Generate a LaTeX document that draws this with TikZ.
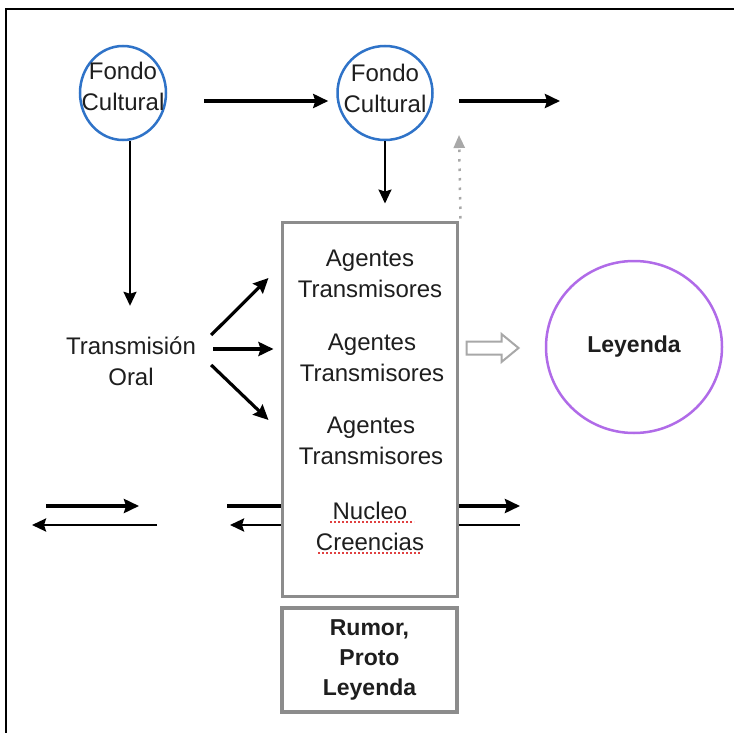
\documentclass[tikz,border=0pt]{standalone}
\usepackage{fontspec}
\setmainfont{Liberation Sans}
\usetikzlibrary{arrows.meta,calc,shapes.geometric}
\definecolor{cblue}{HTML}{2F73C8}
\definecolor{cpurple}{HTML}{B06BE8}
\definecolor{cgray}{HTML}{8C8C8C}
\definecolor{dgray}{HTML}{A8A8A8}
\definecolor{txt}{HTML}{1E1E1E}
\definecolor{squig}{HTML}{E04040}
\begin{document}
\begin{tikzpicture}[x=1pt,y=-1pt,
  every node/.style={font=\fontsize{24}{31}\selectfont, text=txt, inner sep=0pt, align=center},
  circ/.style={ellipse, draw=cblue, line width=2.5pt},
  boldtxt/.style={font=\fontsize{23}{30}\selectfont\bfseries},
  arr/.style={line width=3.2pt, -{Stealth[length=15pt,width=14pt,inset=2pt]}},
  arrthin/.style={line width=2pt, -{Stealth[length=14pt,width=13pt,inset=2pt]}},
  arrlow/.style={line width=2.5pt, -{Stealth[length=14pt,width=13pt,inset=2pt]}},
  dotarr/.style={draw=dgray, line width=2.5pt, dash pattern=on 2.5pt off 7pt,
     -{Triangle[length=13pt,width=11pt,fill=dgray]}},
  squiggle/.style={draw=squig, line width=1.3pt, dash pattern=on 2pt off 2pt}
]
\useasboundingbox (0,0) rectangle (734,733);
\fill[white] (0,0) rectangle (734,733);
\draw[line width=2.5pt] (6,740) -- (6,9) -- (740,9);

% nodes
\node[circ, minimum width=86pt, minimum height=94pt] (c1) at (123,93) {};
\node (c1t) at ($(c1.center)+(0,-7)$) {Fondo\\Cultural};
\node[circ, minimum width=95pt, minimum height=94pt] (c2) at (385,93) {};
\node (c2t) at ($(c2.center)+(0,-5)$) {Fondo\\Cultural};
\node[minimum width=160pt, minimum height=110pt] (tr) at (131,361) {Transmisión\\Oral};
\node[draw=cgray, line width=3pt, minimum width=175pt, minimum height=374pt] (box) at (369.5,409) {};
\node (ag1) at (370,274) {Agentes\\Transmisores};
\node (ag2) at (372,358) {Agentes\\Transmisores};
\node (ag3) at (371,441) {Agentes\\Transmisores};
\node (nuc) at (370,526) {Nucleo\\Creencias};
\node[draw=cgray, line width=4.5pt, minimum width=175pt, minimum height=104pt, boldtxt] (rum) at (369.5,660) {Rumor,\\Proto\\Leyenda};
\node[ellipse, draw=cpurple, line width=2.5pt, minimum width=176pt, minimum height=172pt, boldtxt] (ley) at (634,347) {Leyenda};

% spell-check underlines
\draw[squiggle] ($(nuc.center)+(-40,-4)$) -- ($(nuc.center)+(44,-4)$);
\draw[squiggle] ($(nuc.center)+(-52,27)$) -- ($(nuc.center)+(51,27)$);

% top arrows
\coordinate (o1) at (560,101);
\draw[arr] ($(c1.east)+(37,8)$) -- ($(c2.west)+(-8,8)$);
\draw[arr] ($(c2.east)+(25,8)$) -- (o1);
\draw[arrthin] ($(c1.south)+(7,0)$) -- ($(tr.north)+(-1,0)$);
\draw[arrthin] (c2.south) -- ($(box.north -| c2.south)+(0,-17)$);

% dotted grey arrow
\coordinate (d1) at (459,135);
\draw[dotarr] ($(box.north east)+(2,-2)$) -- (d1);

% transmission arrows
\draw[arr] ($(tr.east)+(0,-26)$) -- ($(box.west)+(-12,-131)$);
\draw[arr] ($(tr.east)+(2,-12)$) -- ($(box.west)+(-7,-60)$);
\draw[arr] ($(tr.east)+(0,4)$) -- ($(box.west)+(-12,11)$);

% hollow arrow
\coordinate (h0) at ($(box.east)+(8,-61)$);
\draw[draw=dgray, line width=2pt, fill=white, line join=miter]
  ($(h0)+(0,-6.5)$) -- ++(35,0) -- ++(0,-7.5) -- ++(17,14) -- ++(-17,14) -- ++(0,-7.5) -- ++(-35,0) -- cycle;

% bottom arrows
\coordinate (l1) at (46,506);
\coordinate (l2) at (139,506);
\coordinate (l3) at (157,525);
\coordinate (l4) at (32,525);
\draw[arr] (l1) -- (l2);
\draw[arrlow] (l3) -- (l4);
\coordinate (m1) at (227,506);
\coordinate (m2) at (230,525);
\draw[line width=3.2pt] (m1) -- (m1 -| box.west);
\draw[arrlow] (m2 -| box.west) -- (m2);
\coordinate (r1) at (520,506);
\coordinate (r2) at (520,525);
\draw[arr] (r1 -| box.east) -- (r1);
\draw[line width=2.5pt] (r2 -| box.east) -- (r2);
\end{tikzpicture}
\end{document}
